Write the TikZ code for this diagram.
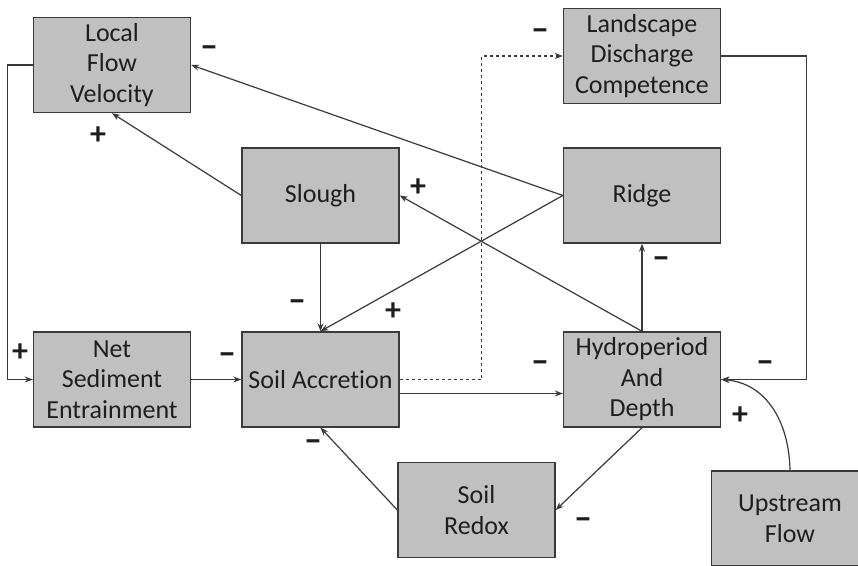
\documentclass[tikz,border=0pt]{standalone}
\usepackage{fontspec}
\setmainfont[Ligatures={NoCommon}]{Carlito}
\usetikzlibrary{arrows.meta}
\definecolor{boxfill}{HTML}{C0C0C0}
\definecolor{edge}{HTML}{3A3A3A}
\definecolor{txt}{HTML}{1E1E1E}
\tikzset{
  box/.style={draw=edge, line width=1.4pt, fill=boxfill, minimum width=157pt, minimum height=95pt,
    inner sep=0pt, align=center, text=txt, font=\fontsize{26}{30.5}\selectfont},
  conn/.style={draw=edge, line width=1.2pt, -{Stealth[length=8pt,width=6pt]}},
  sign/.style={text=txt, font=\fontsize{32}{32}\selectfont\bfseries, inner sep=0pt},
  minus/.style={text=txt, font=\fontsize{36}{36}\selectfont\bfseries, inner sep=0pt}
}
\begin{document}
\begin{tikzpicture}[x=1pt,y=-1pt]
\useasboundingbox (0,0) rectangle (858,565);
\clip (0,0) rectangle (858,565);
\fill[white] (0,0) rectangle (858,565);
% boxes
\node[box] (lfv) at (112,65) {Local\\Flow\\Velocity};
\node[box] (ldc) at (642,56) {Landscape\\Discharge\\Competence};
\node[box] (slough) at (320.5,195.5) {Slough};
\node[box] (ridge) at (642,195.5) {Ridge};
\node[box] (nse) at (112,379.5) {Net\\Sediment\\Entrainment};
\node[box] (sa) at (320.5,379.5) {Soil Accretion};
\node[box] (hyd) at (642,379.5) {Hydroperiod\\And\\Depth};
\node[box] (redox) at (476.5,510) {Soil\\Redox};
\node[box] (up) at (790,518.5) {Upstream\\Flow};
% connectors
\draw[conn] (lfv.west) -- ++(-25,0) |- (nse.west);
\draw[conn] (ridge.west) -- (lfv.east);
\draw[conn] (slough.west) -- (lfv.south);
\draw[conn] (slough.south) -- (sa.north);
\draw[conn] (ridge.west) -- (sa.north);
\draw[conn] (hyd.north) -- (slough.east);
\draw[conn] (hyd.north) -- (ridge.south);
\draw[conn, dash pattern=on 3pt off 3pt] (sa.east) -- ++(82,0) |- (ldc.west);
\draw[conn] ([yshift=-14pt]sa.east) -- ([yshift=-14pt]hyd.west);
\draw[conn] (nse.east) -- (sa.west);
\draw[conn] (hyd.south) -- (redox.east);
\draw[conn] (redox.west) -- (sa.south);
\draw[conn] (ldc.east) -- ++(85,0) |- (hyd.east);
\draw[conn] (up.north) .. controls (789,420) and (765,383) .. (hyd.east);
% signs
\node[minus] (s1) at (209,52) {–};
\node[sign] (s2) at (98,136) {+};
\node[sign] (s3) at (20,353) {+};
\node[minus] (s4) at (540,35) {–};
\node[sign] (s5) at (418,188) {+};
\node[minus] (s6) at (297,306) {–};
\node[sign] (s7) at (393,312) {+};
\node[minus] (s8) at (661,263) {–};
\node[minus] (s9) at (227,359) {–};
\node[minus] (s10) at (313,446) {–};
\node[minus] (s11) at (540,367) {–};
\node[minus] (s12) at (765,367) {–};
\node[sign] (s13) at (740,416) {+};
\node[minus] (s14) at (583,524) {–};
\end{tikzpicture}
\end{document}
